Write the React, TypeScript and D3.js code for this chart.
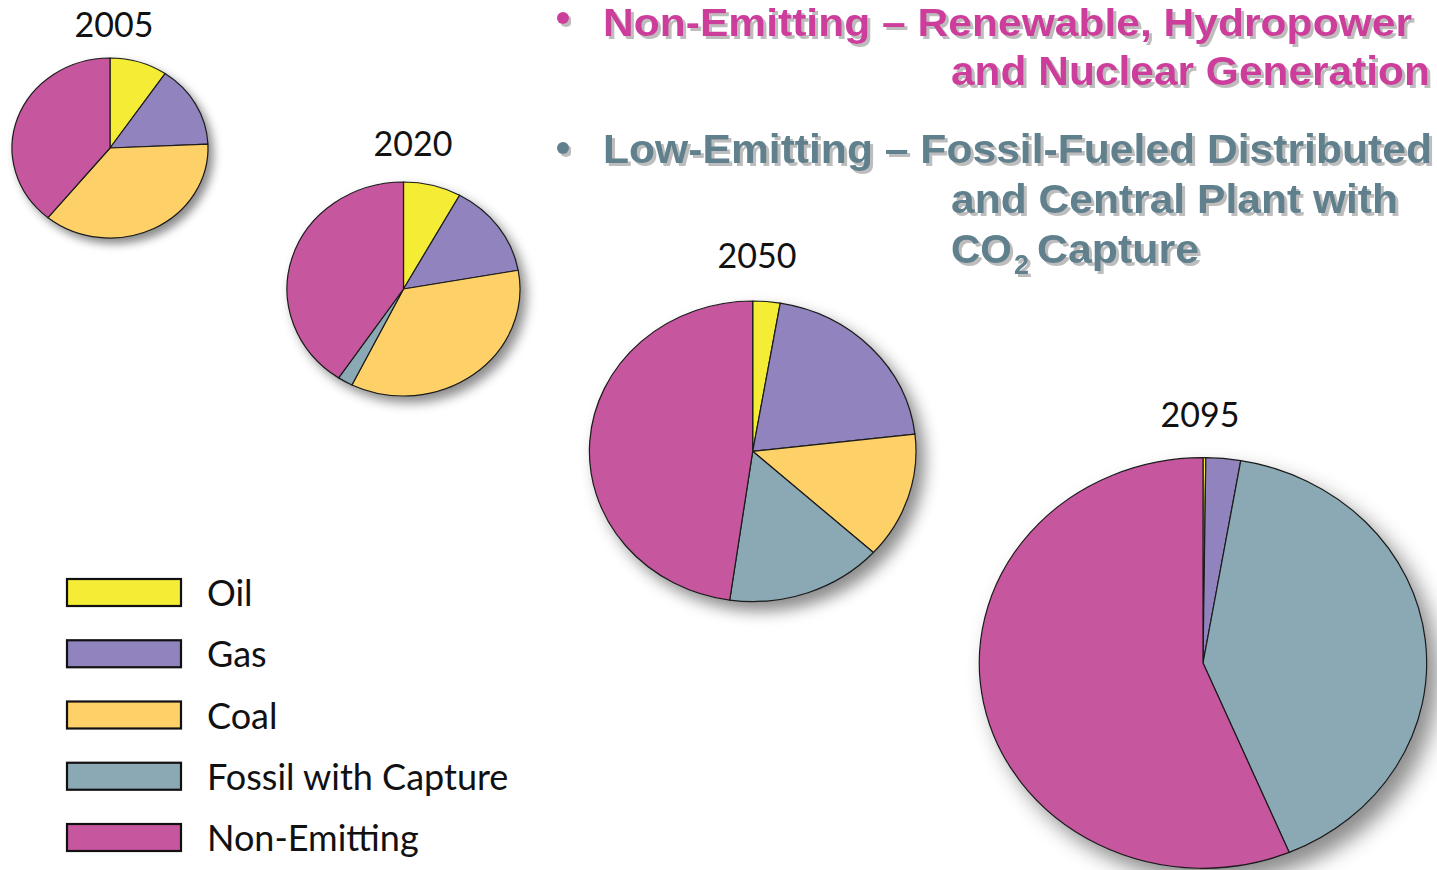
import * as d3 from "d3";

const categories = ["Oil", "Gas", "Coal", "Fossil with Capture", "Non-Emitting"];
const colors = ["#f5ec35", "#9183bd", "#fdd068", "#8aa9b4", "#c6569e"];
const years = ["2005", "2020", "2050", "2095"];

// percent share per category, in category order
const share2005 = [9.5, 14.8, 36.6, 0, 39.1];
const share2020 = [8.0, 14.2, 35.1, 2.1, 40.6];
const share2050 = [2.7, 20.5, 13.6, 15.5, 47.8];
const share2095 = [0.2, 2.5, 0, 41.0, 56.3];
const shares = [share2005, share2020, share2050, share2095];

// where each pie sits (ellipse centre and radii) and its year label baseline
const pieLayout = [
  { cx: 110, cy: 148, rx: 98, ry: 90, labelX: 114, labelY: 37 },
  { cx: 403.5, cy: 289, rx: 116.5, ry: 107, labelX: 413, labelY: 156 },
  { cx: 752.7, cy: 451.3, rx: 163.3, ry: 150.3, labelX: 757, labelY: 268 },
  { cx: 1203, cy: 663, rx: 223.7, ry: 205.3, labelX: 1200, labelY: 427 },
];

const pink = "#cc3d9c";
const teal = "#5e808c";
const boldFont = "'Liberation Sans Narrow', 'Liberation Sans', Arial, sans-serif";
const roundFont = "Lato, 'Open Sans', sans-serif";

const R = 100;
const pie = d3
  .pie<number>()
  .sort(null)
  .value((d) => d);
const arc = d3.arc<d3.PieArcDatum<number>>().innerRadius(0).outerRadius(R);

function BoldText({
  x,
  y,
  fill,
  len,
  size = 40,
  children,
}: {
  x: number;
  y: number;
  fill: string;
  len?: number;
  size?: number;
  children: string;
}) {
  return (
    <text
      x={x}
      y={y}
      fill={fill}
      fontFamily={boldFont}
      fontWeight={700}
      fontSize={size}
      textLength={len}
      lengthAdjust={len ? "spacingAndGlyphs" : undefined}
      filter="url(#textShadow)"
    >
      {children}
    </text>
  );
}

export default function App() {
  const width = 1437;
  const height = 870;
  const legendY = d3
    .scalePoint<string>()
    .domain(categories)
    .range([579, 824]);

  return (
    <svg
      width={width}
      height={height}
      style={{ position: "absolute", left: 0, top: 0, background: "#fff" }}
    >
      <defs>
        <filter id="shadow" x="-20%" y="-20%" width="150%" height="150%">
          <feDropShadow
            dx={5}
            dy={6}
            stdDeviation={5}
            floodColor="#000"
            floodOpacity={0.45}
          />
        </filter>
        <filter id="textShadow" x="-5%" y="-20%" width="115%" height="150%">
          <feDropShadow
            dx={3}
            dy={3}
            stdDeviation={0.6}
            floodColor="#bdbdbd"
            floodOpacity={1}
          />
        </filter>
      </defs>

      {shares.map((vals, i) => {
        const l = pieLayout[i];
        const arcs = pie(vals).filter((a) => a.value > 0);
        return (
          <g key={years[i]}>
            <text
              x={l.labelX}
              y={l.labelY}
              textAnchor="middle"
              fontFamily={roundFont}
              fontSize={34}
              fill="#111"
            >
              {years[i]}
            </text>
            <g
              transform={`translate(${l.cx},${l.cy}) scale(${l.rx / R},${l.ry / R})`}
              filter="url(#shadow)"
            >
              {arcs.map((a) => (
                <path
                  key={a.index}
                  d={arc(a) ?? ""}
                  fill={colors[a.index]}
                  stroke="#1a1a1a"
                  strokeWidth={1.2}
                  strokeLinejoin="round"
                  vectorEffect="non-scaling-stroke"
                />
              ))}
            </g>
          </g>
        );
      })}

      {categories.map((c, i) => {
        const y = legendY(c) ?? 0;
        return (
          <g key={c}>
            <rect
              x={67}
              y={y}
              width={114}
              height={27}
              fill={colors[i]}
              stroke="#111"
              strokeWidth={2.2}
            />
            <text
              x={207}
              y={y + 27}
              fontFamily={roundFont}
              fontSize={36}
              fill="#111"
            >
              {c}
            </text>
          </g>
        );
      })}

      <circle cx={563} cy={18} r={6} fill={pink} filter="url(#textShadow)" />
      <BoldText x={603} y={36} fill={pink} len={809} size={39}>
        Non-Emitting – Renewable, Hydropower
      </BoldText>
      <BoldText x={951} y={85} fill={pink} len={479}>
        and Nuclear Generation
      </BoldText>

      <circle cx={563} cy={148} r={6} fill={teal} filter="url(#textShadow)" />
      <BoldText x={603} y={163} fill={teal} len={829}>
        Low-Emitting – Fossil-Fueled Distributed
      </BoldText>
      <BoldText x={951} y={213} fill={teal} len={447}>
        and Central Plant with
      </BoldText>
      <BoldText x={951} y={263} fill={teal} len={61}>
        CO
      </BoldText>
      <BoldText x={1014} y={274} fill={teal} size={27}>
        2
      </BoldText>
      <BoldText x={1037} y={263} fill={teal} len={162}>
        Capture
      </BoldText>
    </svg>
  );
}
